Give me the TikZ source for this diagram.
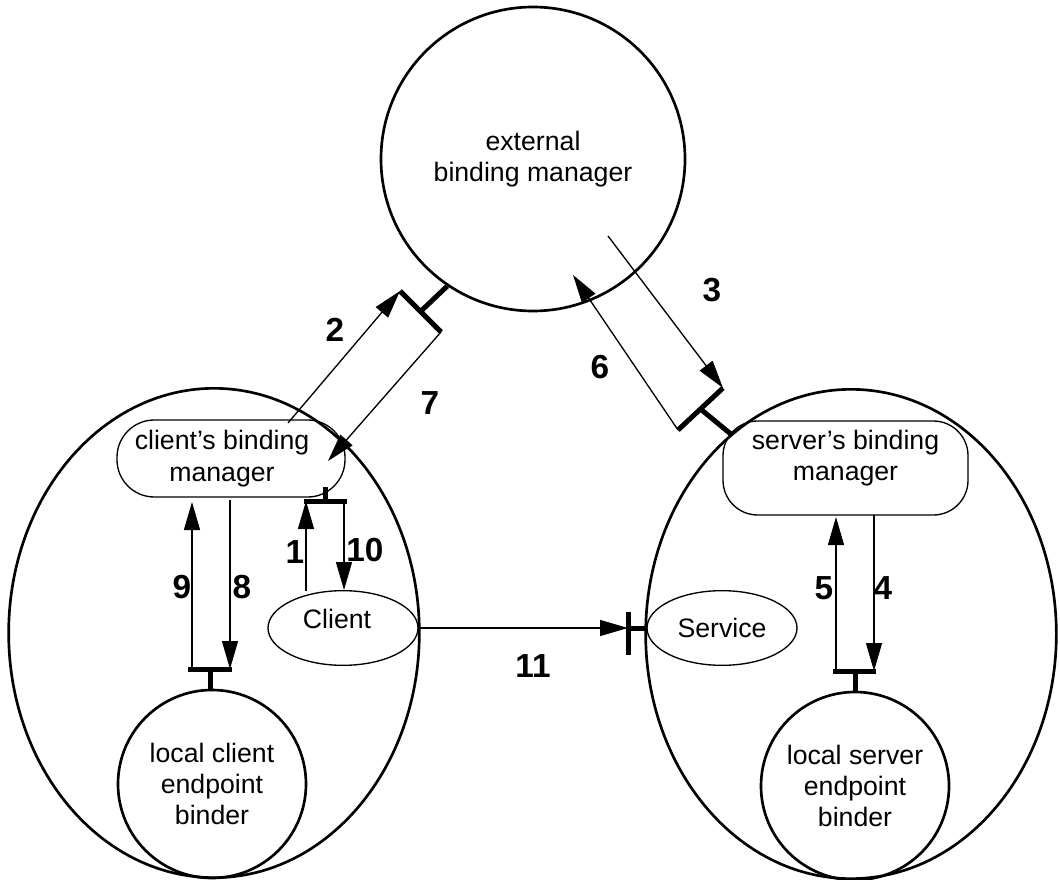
\documentclass[tikz,border=0pt]{standalone}
\usepackage{fontspec}
\setmainfont{Liberation Sans}
\usetikzlibrary{shapes.geometric,arrows.meta}

\begin{document}
\begin{tikzpicture}[x=0.75pt,y=0.75pt,yscale=-1,xscale=1,
  every node/.style={font=\fontsize{20}{23.5}\selectfont,align=center,inner sep=0.75pt},
  sideshell/.style={draw,ellipse,line width=2pt,minimum width=308pt,minimum height=367pt},
  binder/.style={draw,circle,line width=2pt,minimum size=#1},
  mgr/.style={draw,line width=1pt,rounded corners=#1},
  obj/.style={draw,ellipse,line width=1pt,minimum width=112.5pt,minimum height=56pt},
  msg/.style={line width=1pt,-{Triangle[length=21pt,width=12pt]}},
  port/.style={line width=3.75pt},
  num/.style={font=\fontsize{25}{30}\selectfont\bfseries}]
\useasboundingbox (0,0) rectangle (1060,880);

%Shape: Ellipse [id:client side]
\node[sideshell] (cside) at (214,633) {};
%Shape: Ellipse [id:server side]
\node[sideshell] (sside) at (851,634) {};
%Shape: Circle [id:external binding manager]
\node[binder=228pt] (ebm) at (533,159) {external\\binding manager};
%Shape: Circle [id:local binders]
\node[binder=141pt] (lcb) at (212,784) {local client\\endpoint\\binder};
\node[binder=141pt] (lsb) at (855,786) {local server\\endpoint\\binder};
%Shape: Rounded Rect [id:binding managers]
\node[mgr=28pt,minimum width=171pt,minimum height=57.75pt] (cbm) at (231,458.5) {};
\node (cbmtext) at (222,458.5) {client's binding\\manager};
\node[mgr=26pt,minimum width=183.75pt,minimum height=70.5pt] (sbm) at (845.5,468) {};
\node (sbmtext) at (845.5,458) {server's binding\\manager};
%Shape: Ellipse [id:client and service]
\node[obj] (client) at (343,628) {};
\node (clienttext) at (337,619) {Client};
\node[obj] (service) at (722,628) {Service};

% ports
\coordinate (pa1) at (400,291); \coordinate (pa2) at (441,332); \coordinate (pam) at (420.5,311.5);
\coordinate (pb1) at (723,388); \coordinate (pb2) at (678,430); \coordinate (pbm) at (700.5,409);
\coordinate (pbt) at (732,435);
\coordinate (pc1) at (304,501); \coordinate (pc2) at (347,501); \coordinate (pcm) at (325,501);
\coordinate (pct) at (325,487);
\coordinate (pd1) at (188,669); \coordinate (pd2) at (232,669); \coordinate (pdm) at (210,669);
\coordinate (pe1) at (833,671); \coordinate (pe2) at (876,671); \coordinate (pem) at (855,671);
\coordinate (pf1) at (628,612); \coordinate (pf2) at (628,655); \coordinate (pfm) at (628,628);

\draw[port] (pa1) -- (pa2) (pam) -- (ebm.236);
\draw[port] (pb1) -- (pb2) (pbm) -- (pbt);
\draw[port] (pc1) -- (pc2) (pcm) -- (pct);
\draw[port] (pd1) -- (pd2) (pdm) -- (pdm |- lcb.north);
\draw[port] (pe1) -- (pe2) (pem) -- (lsb.north);
\draw[port] (pf1) -- (pf2) (pfm) -- (service.west);

% message ends
\coordinate (m2) at (288,423); \coordinate (m7) at (328,461);
\coordinate (m3) at (608,236); \coordinate (m6) at (573,275);
\coordinate (m1) at (306,591); \coordinate (m10) at (344,590);
\coordinate (m9) at (192,502); \coordinate (m8) at (230,500);
\coordinate (m5) at (836,517); \coordinate (m4) at (874,515);

%Straight Lines [id:messages]
\draw[msg] (m2) -- (pa1);
\draw[msg] (pa2) -- (m7);
\draw[msg] (m3) -- (pb1);
\draw[msg] (pb2) -- (m6);
\draw[msg] (m1) -- (m1 |- pc1);
\draw[msg] (m10 |- pc1) -- (m10);
\draw[msg] (m9 |- pd1) -- (m9);
\draw[msg] (m8) -- (m8 |- pd1);
\draw[msg] (m5 |- pe1) -- (m5);
\draw[msg] (m4) -- (m4 |- pe1);
\draw[msg] (client.east) -- (pfm);

% Text Node
\node[num] (n1) at (295,552) {1};
\node[num] (n2) at (335,330) {2};
\node[num] (n3) at (712,290) {3};
\node[num] (n4) at (883,588) {4};
\node[num] (n5) at (824,588) {5};
\node[num] (n6) at (600,367) {6};
\node[num] (n7) at (430,403) {7};
\node[num] (n8) at (242,587) {8};
\node[num] (n9) at (182,587) {9};
\node[num] (n10) at (365,550) {10};
\node[num] (n11) at (533,666) {11};

\end{tikzpicture}
\end{document}
